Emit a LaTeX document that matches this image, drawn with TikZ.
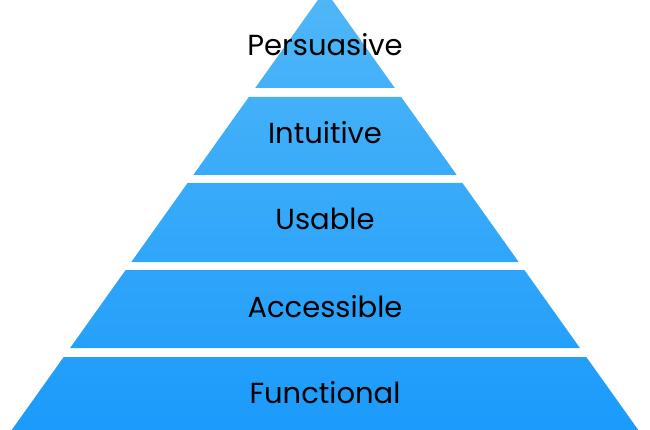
\documentclass[tikz,border=0pt]{standalone}
\usepackage{fontspec}
\setmainfont{Poppins}
\definecolor{cTop}{RGB}{80,183,248}
\definecolor{cBase}{RGB}{26,154,251}
\tikzset{
	layerlabel/.style={font=\fontsize{29}{34}\selectfont, text=black, inner sep=0pt},
}

\begin{document}
\begin{tikzpicture}[x=1pt, y=-1pt]
	\useasboundingbox (0,0) rectangle (650,430);
	% pyramid layers, white gaps between them
	\begin{scope}
		\clip \foreach \t/\b in {-10/88, 97/175, 183/262, 270/348, 357/440} {
			({325-0.712*(\t+10)},\t) -- ({325+0.712*(\t+10)},\t) -- ({325+0.712*(\b+10)},\b) -- ({325-0.712*(\b+10)},\b) -- cycle};
		\shade[top color=cTop, bottom color=cBase] (0,-10) rectangle (650,440);
	\end{scope}
	\node[layerlabel] (persuasive) at (325,45) {Persuasive};
	\node[layerlabel] (intuitive) at (325,133) {Intuitive};
	\node[layerlabel] (usable) at (325,219) {Usable};
	\node[layerlabel] (accessible) at (325,307) {Accessible};
	\node[layerlabel] (functional) at (325,393) {Functional};
\end{tikzpicture}
\end{document}
